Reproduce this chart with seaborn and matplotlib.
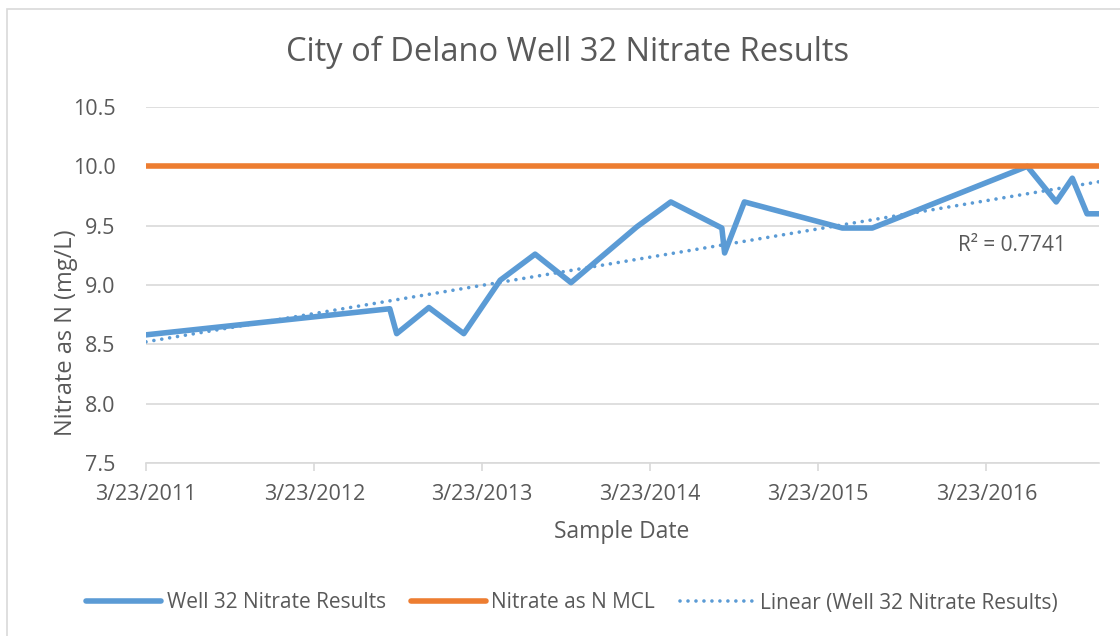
import pandas as pd
import numpy as np
import matplotlib
matplotlib.use("Agg")
import matplotlib.pyplot as plt
import matplotlib.dates as mdates
from matplotlib.patches import Rectangle
import seaborn as sns

# --- DATA ---
SAMPLE_DATES = [
    "2011-03-23", "2012-09-03", "2012-09-18", "2012-11-27", "2013-02-11",
    "2013-05-01", "2013-07-16", "2013-10-02", "2014-02-22", "2014-05-07",
    "2014-08-26", "2014-09-01", "2014-10-14", "2015-05-15", "2015-07-19",
    "2016-06-20", "2016-08-22", "2016-09-26", "2016-10-28", "2016-11-23",
]
NITRATE = [
    8.58, 8.80, 8.59, 8.81, 8.59,
    9.04, 9.26, 9.02, 9.49, 9.70,
    9.48, 9.27, 9.70, 9.48, 9.48,
    10.00, 9.70, 9.90, 9.60, 9.60,
]
MCL_VALUE = 10.0
R2_LABEL = "R² = 0.7741"
TICK_DATES = ["2011-03-23", "2012-03-23", "2013-03-23", "2014-03-23", "2015-03-23", "2016-03-23"]
TICK_LABELS = ["3/23/2011", "3/23/2012", "3/23/2013", "3/23/2014", "3/23/2015", "3/23/2016"]

BLUE = "#5b9bd5"
ORANGE = "#ed7d31"
TEXT = "#595959"
GRID = "#d9d9d9"

sns.set_style("white")
plt.rcParams['font.family'] = ['Open Sans', 'DejaVu Sans']

df = pd.DataFrame({"date": pd.to_datetime(SAMPLE_DATES), "nitrate": NITRATE})

# linear trend fitted on the data (like Excel's trendline)
xnum = mdates.date2num(df["date"])
slope, intercept = np.polyfit(xnum, df["nitrate"], 1)
df["trend"] = slope * xnum + intercept

fig = plt.figure(figsize=(11.2, 6.36), dpi=100)
ax = fig.add_axes([146 / 1120, 1 - 463 / 636, (1099 - 146) / 1120, (463 - 107) / 636])

# outer chart frame
fig.patches.append(Rectangle((7 / 1120, -0.1), 1.2, 1 - 9 / 636 + 0.1, transform=fig.transFigure,
                             fill=False, edgecolor=GRID, linewidth=1.2))

sns.lineplot(data=df, x="date", y="nitrate", ax=ax, color=BLUE, linewidth=4,
             label="Well 32 Nitrate Results", zorder=3)
ax.axhline(MCL_VALUE, color=ORANGE, linewidth=4, label="Nitrate as N MCL", zorder=4)
sns.lineplot(data=df, x="date", y="trend", ax=ax, color=BLUE, linewidth=2.6,
             linestyle=(0, (0.01, 2.2)), dash_capstyle="round",
             label="Linear (Well 32 Nitrate Results)", zorder=2)

ax.set_xlim(df["date"].min(), df["date"].max())
ax.set_ylim(7.5, 10.5)
ax.set_yticks(np.arange(7.5, 10.51, 0.5))
ax.set_yticklabels([f"{v:.1f}" for v in np.arange(7.5, 10.51, 0.5)])
ax.set_xticks(pd.to_datetime(TICK_DATES))
ax.set_xticklabels(TICK_LABELS)

ax.grid(axis="y", color=GRID, linewidth=1.2)
ax.set_axisbelow(True)
for s in ["top", "right", "left"]:
    ax.spines[s].set_visible(False)
ax.spines["bottom"].set_color(GRID)
ax.spines["bottom"].set_linewidth(1.2)
ax.tick_params(axis="x", colors=TEXT, labelsize=15.5, length=6, width=1.2, color=GRID, direction="out",
               pad=9, bottom=True)
ax.tick_params(axis="y", colors=TEXT, labelsize=15.5, length=0, pad=22)

ax.set_xlabel("")
ax.set_ylabel("")
fig.text(568 / 1120, 1 - 52 / 636, "City of Delano Well 32 Nitrate Results", fontsize=23.5,
         color=TEXT, ha="center", va="center")
fig.text(622 / 1120, 1 - 532 / 636, "Sample Date", fontsize=16.5, color=TEXT, ha="center", va="center")
fig.text(66 / 1120, 1 - 333 / 636, "Nitrate as N (mg/L)", fontsize=17, color=TEXT,
         ha="center", va="center", rotation=90)

fig.text(1012 / 1120, 1 - 245 / 636, R2_LABEL, fontsize=15, color=TEXT, ha="center", va="center")

leg = ax.legend(loc="center", bbox_to_anchor=(572 / 1120, 1 - 603 / 636), bbox_transform=fig.transFigure,
                ncol=3, frameon=False, fontsize=15, handlelength=3.6, handletextpad=0.25,
                columnspacing=1.2)
for t in leg.get_texts():
    t.set_color(TEXT)

fig.savefig("out.png", dpi=100)
